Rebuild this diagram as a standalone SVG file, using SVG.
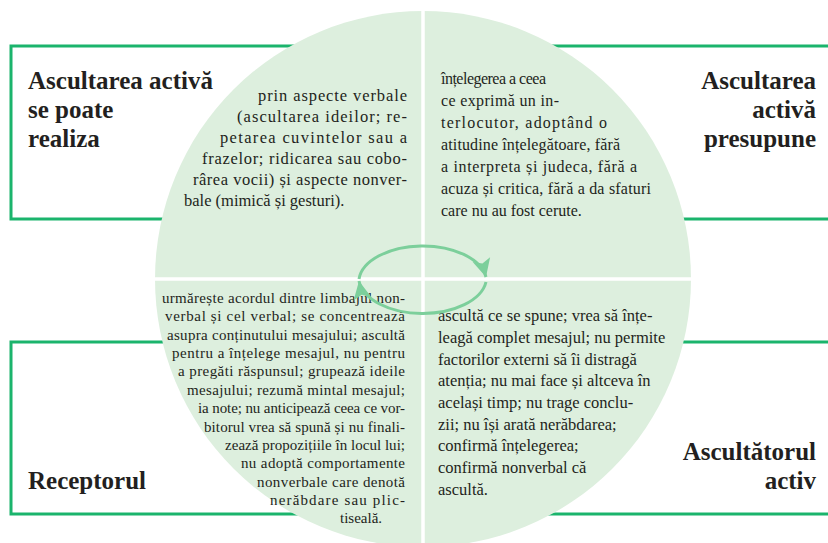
<svg xmlns="http://www.w3.org/2000/svg" width="828" height="543" viewBox="0 0 828 543">
<style>
.frame{fill:none;stroke:#1bb46c;stroke-width:3}
.head{font-family:'Liberation Serif',serif;font-weight:bold;font-size:25px;fill:#231f20}
.body{font-family:'Liberation Serif',serif;fill:#231f20}
.divider{stroke:#ffffff;stroke-width:3.5}
.arc{fill:none;stroke:#7ccf9b;stroke-width:3;marker-end:url(#head)}
</style>
<defs>
<marker id="head" markerUnits="userSpaceOnUse" markerWidth="22" markerHeight="22" viewBox="0 0 22 22" refX="20" refY="11" orient="auto">
<path d="M2,2 L20,11 L2,20 L6,11 Z" fill="#7ccf9b"/>
</marker>
</defs>
<rect width="828" height="543" fill="#ffffff"/>
<g id="box-realiza">
<rect class="frame" x="11" y="46" width="400" height="173"/>
<text class="head" x="28" y="89">Ascultarea activă</text>
<text class="head" x="28" y="118">se poate</text>
<text class="head" x="28" y="147">realiza</text>
</g>
<g id="box-presupune">
<rect class="frame" x="440" y="46" width="400" height="173"/>
<text class="head" x="816" y="89" text-anchor="end">Ascultarea</text>
<text class="head" x="816" y="118" text-anchor="end">activă</text>
<text class="head" x="816" y="147" text-anchor="end">presupune</text>
</g>
<g id="box-receptorul">
<rect class="frame" x="11" y="342" width="400" height="172"/>
<text class="head" x="28" y="489">Receptorul</text>
</g>
<g id="box-ascultatorul">
<rect class="frame" x="440" y="342" width="400" height="172"/>
<text class="head" x="816" y="460" text-anchor="end">Ascultătorul</text>
<text class="head" x="816" y="489" text-anchor="end">activ</text>
</g>
<g id="disc">
<circle cx="423" cy="279" r="268" fill="#ddefde"/>
<line class="divider" x1="423" y1="0" x2="423" y2="543"/>
<line class="divider" x1="150" y1="279" x2="700" y2="279"/>
</g>
<g id="text-realiza" class="body" font-size="16.5">
<text x="258" y="101" textLength="149" lengthAdjust="spacing">prin aspecte verbale</text>
<text x="237" y="122" textLength="170" lengthAdjust="spacing">(ascultarea ideilor; re-</text>
<text x="220" y="143" textLength="187" lengthAdjust="spacing">petarea cuvintelor sau a</text>
<text x="202" y="164" textLength="205" lengthAdjust="spacing">frazelor; ridicarea sau cobo-</text>
<text x="193" y="185" textLength="214" lengthAdjust="spacing">rârea vocii) și aspecte nonver-</text>
<text x="184" y="206">bale (mimică și gesturi).</text>
</g>
<g id="text-presupune" class="body" font-size="16">
<text x="441" y="84" textLength="105" lengthAdjust="spacing">înțelegerea a ceea</text>
<text x="441" y="106" textLength="118" lengthAdjust="spacing">ce exprimă un in-</text>
<text x="441" y="128" textLength="166" lengthAdjust="spacing">terlocutor, adoptând o</text>
<text x="441" y="150" textLength="179" lengthAdjust="spacing">atitudine înțelegătoare, fără</text>
<text x="441" y="172" textLength="196" lengthAdjust="spacing">a interpreta și judeca, fără a</text>
<text x="441" y="194" textLength="210" lengthAdjust="spacing">acuza și critica, fără a da sfaturi</text>
<text x="441" y="216">care nu au fost cerute.</text>
</g>
<g id="text-receptorul" class="body" font-size="15">
<text x="162" y="303" textLength="243" lengthAdjust="spacing">urmărește acordul dintre limbajul non-</text>
<text x="165" y="321.4" textLength="240" lengthAdjust="spacing">verbal și cel verbal; se concentrează</text>
<text x="167" y="339.7" textLength="238" lengthAdjust="spacing">asupra conținutului mesajului; ascultă</text>
<text x="172" y="358" textLength="233" lengthAdjust="spacing">pentru a înțelege mesajul, nu pentru</text>
<text x="178" y="376.4" textLength="227" lengthAdjust="spacing">a pregăti răspunsul; grupează ideile</text>
<text x="187" y="394.8" textLength="218" lengthAdjust="spacing">mesajului; rezumă mintal mesajul;</text>
<text x="198" y="413.1" textLength="207" lengthAdjust="spacing">ia note; nu anticipează  ceea ce vor-</text>
<text x="204" y="431.5" textLength="201" lengthAdjust="spacing">bitorul vrea să spună și nu finali-</text>
<text x="225" y="449.8" textLength="180" lengthAdjust="spacing">zează propozițiile în locul lui;</text>
<text x="241" y="468.2" textLength="164" lengthAdjust="spacing">nu adoptă comportamente</text>
<text x="257" y="486.5" textLength="148" lengthAdjust="spacing">nonverbale care denotă</text>
<text x="270" y="504.9" textLength="135" lengthAdjust="spacing">nerăbdare sau plic-</text>
<text x="340" y="523.2">tiseală.</text>
</g>
<g id="text-ascultatorul" class="body" font-size="16.5">
<text x="438" y="321">ascultă ce se spune; vrea să înțe-</text>
<text x="438" y="343">leagă complet mesajul; nu permite</text>
<text x="438" y="364.5">factorilor externi să îi distragă</text>
<text x="438" y="386">atenția; nu mai face și altceva în</text>
<text x="438" y="408">același timp; nu trage conclu-</text>
<text x="438" y="429.5">zii; nu își arată nerăbdarea;</text>
<text x="438" y="451">confirmă înțelegerea;</text>
<text x="438" y="473">confirmă nonverbal că</text>
<text x="438" y="494.5">ascultă.</text>
</g>
<g id="connectors">
<path class="arc" d="M 359 279 A 64 36.5 0 0 1 486 277"/>
<path class="arc" d="M 486 282 A 64 36.5 0 0 1 359 281"/>
</g>
</svg>
